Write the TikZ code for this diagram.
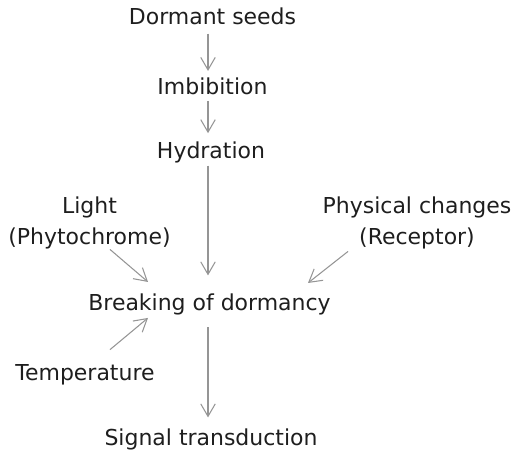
\documentclass[tikz,border=0pt]{standalone}
\usepackage{fontspec}
\setmainfont{DejaVu Sans}
\usepackage{tikz}
\usetikzlibrary{arrows.meta}
\definecolor{flecha}{HTML}{959595}
\definecolor{texto}{HTML}{1E1E1E}

\begin{document}
\begin{tikzpicture}[
  x=0.02cm, y=-0.02cm,
  >={Straight Barb[length=2.5mm, width=2.9mm]},
  arr/.style={->, flecha, line width=0.6pt},
  etapa/.style={font=\fontsize{12.5}{17.6}\selectfont, text=texto, inner sep=0pt, align=center}
]
  \useasboundingbox (0,0) rectangle (516,452);
  \coordinate (eje) at (208,0);

  % --- Secuencia central ---
  \node[etapa, anchor=base] (dormant)   at (212.5, 25)  {Dormant seeds};
  \node[etapa, anchor=base] (imbib)     at (212.5, 95)  {Imbibition};
  \node[etapa, anchor=base] (hydration) at (211, 159)   {Hydration};
  \node[etapa, anchor=base] (breaking)  at (209.5, 310) {Breaking of dormancy};
  \node[etapa, anchor=base] (signal)    at (211, 445)   {Signal transduction};

  % --- Factores externos ---
  \node[etapa] (light)    at (89.5, 223) {Light\\(Phytochrome)};
  \node[etapa] (physical) at (417, 223)  {Physical changes\\(Receptor)};
  \node[etapa, anchor=base] (temp) at (85, 380) {Temperature};

  % --- Flechas verticales ---
  \draw[arr, shorten <=4.5pt, shorten >=4pt] (dormant.south -| eje) -- (imbib.north -| eje);
  \draw[arr, shorten <=3pt, shorten >=5pt] (imbib.south -| eje) -- (hydration.north -| eje);
  \draw[arr, shorten <=1pt, shorten >=10pt] (hydration.south -| eje) -- (breaking.north -| eje);
  \draw[arr, shorten <=7pt, shorten >=6pt] (breaking.south -| eje) -- (signal.north -| eje);

  % --- Flechas diagonales ---
  \draw[arr] ([shift={(20.5,0)}]light.south) -- ([shift={(-61.5,-11)}]breaking.north);
  \draw[arr] ([shift={(-69,2)}]physical.south) -- ([shift={(98.5,-10)}]breaking.north);
  \draw[arr] ([shift={(25,-14)}]temp.north) -- ([shift={(-61.5,3)}]breaking.south);
\end{tikzpicture}
\end{document}
